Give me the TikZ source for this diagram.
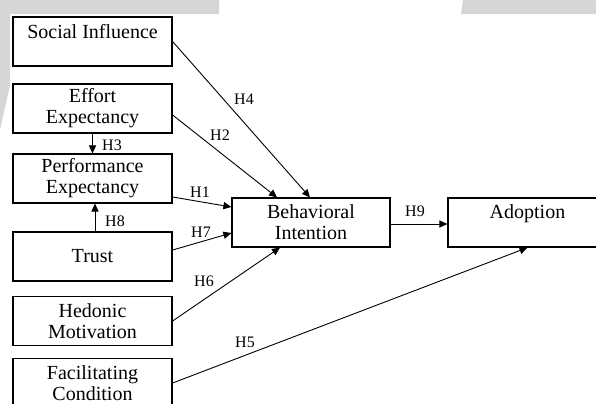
\documentclass[tikz,border=0pt]{standalone}
\usepackage{fontspec}
\setmainfont{Liberation Serif}
\usetikzlibrary{arrows.meta,calc}
\definecolor{wmgray}{HTML}{D5D6D8}
\tikzset{
  factor/.style={draw,line width=0.6pt,minimum width=79.5pt,minimum height=24.5pt,
    inner sep=0pt,align=center,font=\fontsize{10}{10.5}\selectfont},
  hyp/.style={inner sep=0pt,font=\fontsize{8}{9}\selectfont},
  path/.style={line width=0.45pt,-{Triangle[length=4pt,width=3.6pt]}}
}
\begin{document}
\begin{tikzpicture}[x=0.5pt,y=-0.5pt]
\useasboundingbox (0,0) rectangle (596,403);
\clip (0,0) rectangle (596,403);
% watermark in the background
\fill[wmgray] (0,0) -- (219,0) -- (219,14) -- (10,14) -- (10,85) -- (0,130) -- cycle;
\fill[wmgray] (463,0) -- (596,0) -- (596,14) -- (461,14) -- cycle;
% constructs
\node[factor] (si) at (92.5,41.5)  {Social Influence\\~};
\node[factor] (ee) at (92.5,108.5) {Effort\\Expectancy};
\node[factor] (pe) at (92.5,178.5) {Performance\\Expectancy};
\node[factor] (tr) at (92.5,256.5) {Trust};
\node[factor] (hm) at (92.5,321)   {Hedonic\\Motivation};
\node[factor] (fc) at (92.5,383)   {Facilitating\\Condition};
\node[factor,minimum width=79pt] (bi) at (311,222.5) {Behavioral\\Intention};
\node[factor] (ad) at (527.5,222.5) {Adoption\\~};
% hypotheses
\draw[path] (si.east) -- ($(bi.north)+(-1,0)$);
\draw[path] ($(ee.east)+(0,6.5)$) -- ($(bi.north)+(-34,0)$);
\draw[path] (ee.south) -- (pe.north);
\draw[path] ($(pe.east)+(0,18.5)$) -- ($(bi.west)+(0,-15.5)$);
\draw[path] ($(tr.north)+(2.5,0)$) -- ($(pe.south)+(2.5,0)$);
\draw[path] ($(tr.east)+(0,-6.5)$) -- ($(bi.west)+(0,10.5)$);
\draw[path] (hm.east) -- ($(bi.south)+(-31,0)$);
\draw[path] (fc.east) -- (ad.south);
\draw[path] ($(bi.east)+(0,1.5)$) -- ($(ad.west)+(0,1.5)$);
\node[hyp] (h4) at (244,99)  {H4};
\node[hyp] (h2) at (220,135) {H2};
\node[hyp] (h3) at (112,145) {H3};
\node[hyp] (h1) at (200,192) {H1};
\node[hyp] (h8) at (115,221) {H8};
\node[hyp] (h7) at (201,232) {H7};
\node[hyp] (h6) at (204,281) {H6};
\node[hyp] (h5) at (245,342) {H5};
\node[hyp] (h9) at (415,211) {H9};
\end{tikzpicture}
\end{document}
